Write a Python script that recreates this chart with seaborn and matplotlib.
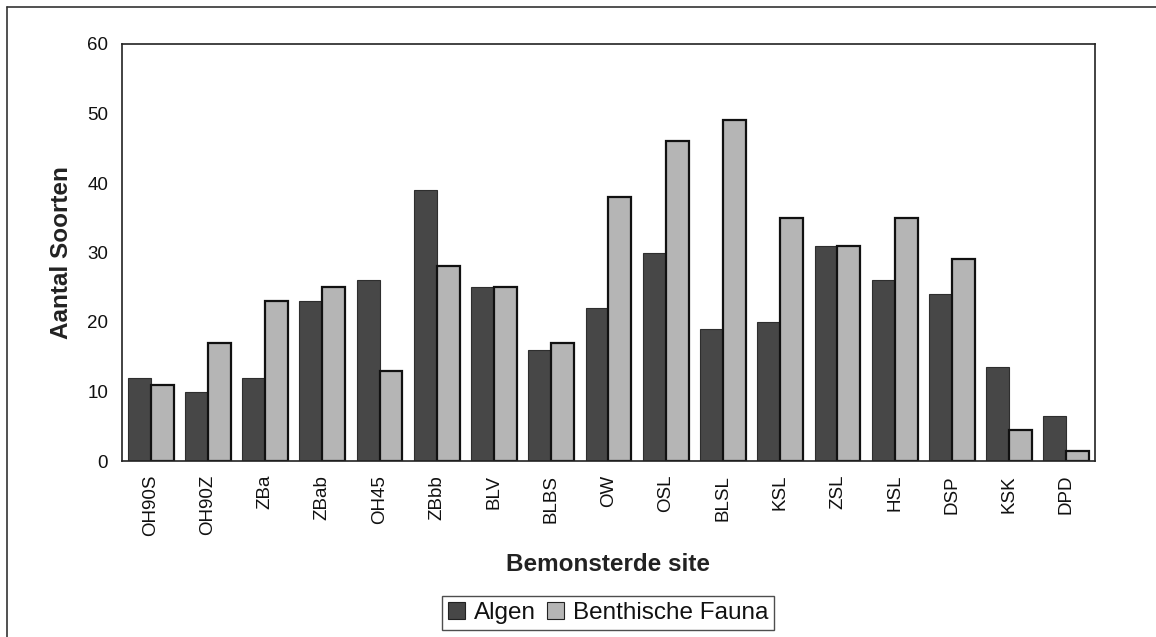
import numpy as np
import pandas as pd
import seaborn as sns
import matplotlib.pyplot as plt
from matplotlib.lines import Line2D

# Sampled sites and number of species per group
sites = ["OH90S", "OH90Z", "ZBa", "ZBab", "OH45", "ZBbb", "BLV", "BLBS", "OW",
         "OSL", "BLSL", "KSL", "ZSL", "HSL", "DSP", "KSK", "DPD"]
algen = [12, 10, 12, 23, 26, 39, 25, 16, 22, 30, 19, 20, 31, 26, 24, 13.5, 6.5]
fauna = [11, 17, 23, 25, 13, 28, 25, 17, 38, 46, 49, 35, 31, 35, 29, 4.5, 1.5]
groups = ["Algen", "Benthische Fauna"]
yticks = [0, 10, 20, 30, 40, 50, 60]

df = pd.DataFrame({
    "site": sites * 2,
    "groep": [groups[0]] * len(sites) + [groups[1]] * len(sites),
    "aantal": algen + fauna,
})

sns.set_theme(style="white")
plt.rcParams["font.family"] = ["Liberation Sans", "DejaVu Sans"]

W, H = 1156, 637
fig = plt.figure(figsize=(W / 100, H / 100), dpi=100)
fig.patch.set_facecolor("white")
ax = fig.add_axes([122 / W, 1 - 461 / H, (1095 - 122) / W, (461 - 44) / H])

colors = {"Algen": "#474747", "Benthische Fauna": "#b5b5b5"}
sns.barplot(data=df, x="site", y="aantal", hue="groep", hue_order=groups,
            palette=colors, saturation=1, width=0.8, gap=0, ax=ax,
            legend=False)

# bar outlines
for cont, ec, lw in zip(ax.containers, ["#2e2e2e", "#111111"], [0.8, 1.6]):
    for p in cont:
        p.set_edgecolor(ec)
        p.set_linewidth(lw)

ax.set_xlim(-0.5, len(sites) - 0.5)
ax.set_ylim(0, 60)
ax.set_yticks(yticks)
ax.set_yticklabels([str(v) for v in yticks], fontsize=13.5)
ax.set_xticks(range(len(sites)))
ax.set_xticklabels(sites, rotation=90, fontsize=13.5)
ax.set_xticks(np.arange(-0.5, len(sites)), minor=True)
ax.tick_params(axis="x", which="major", length=0, pad=10, colors="#111111")
ax.tick_params(axis="x", which="minor", length=5, width=1, direction="out",
               color="#222222")
ax.tick_params(axis="y", length=5, width=1, direction="out", pad=5,
               color="#222222", labelcolor="#111111")

for s in ax.spines.values():
    s.set_visible(True)
    s.set_color("#222222")
    s.set_linewidth(1.2)

ax.set_ylabel("Aantal Soorten", fontsize=17.5, fontweight="bold",
              color="#222222", labelpad=10)
ax.set_xlabel("Bemonsterde site", fontsize=17.5, fontweight="bold",
              color="#222222", labelpad=12)

# legend below the axis title
handles = [plt.Rectangle((0, 0), 1, 1, facecolor=colors[g],
                         edgecolor="#222222", linewidth=0.8) for g in groups]
leg = fig.legend(handles, groups, loc="center", ncol=2,
                 bbox_to_anchor=(608 / W, 1 - 613 / H), fontsize=17.5,
                 frameon=True, fancybox=False, edgecolor="#222222",
                 handlelength=0.72, handleheight=0.72, handletextpad=0.35,
                 columnspacing=0.45, borderpad=0.25, borderaxespad=0)
leg.get_frame().set_linewidth(1.0)
for t in leg.get_texts():
    t.set_color("#111111")

# outer chart frame (left and top edges)
fig.add_artist(Line2D([7 / W, 7 / W], [0, 1 - 7 / H], transform=fig.transFigure,
                      color="#333333", linewidth=1.2))
fig.add_artist(Line2D([7 / W, 1], [1 - 7 / H, 1 - 7 / H], transform=fig.transFigure,
                      color="#333333", linewidth=1.2))

fig.savefig("out.png", dpi=100)
